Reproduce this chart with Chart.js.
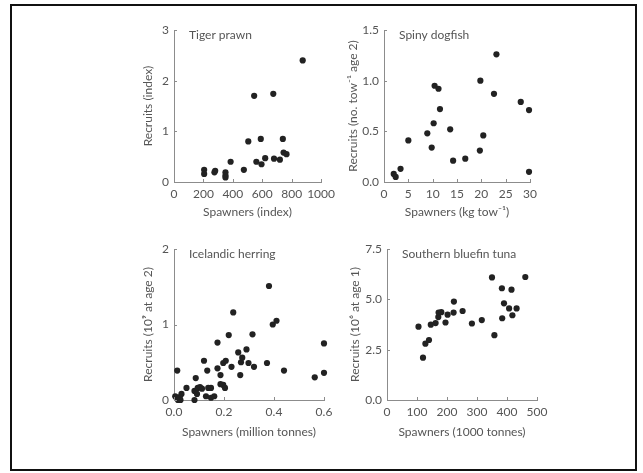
<!DOCTYPE html>
<html><head><meta charset="utf-8">
<script src="https://cdn.jsdelivr.net/npm/chart.js@4.4.0/dist/chart.umd.min.js"></script>
<style>
html,body{margin:0;padding:0;background:#fff;}
body{width:643px;height:473px;position:relative;overflow:hidden;}
#frame{position:absolute;left:10px;top:4px;width:623px;height:463px;border:2px solid #111;}
canvas{position:absolute;}
</style></head><body>
<div id="frame"></div>
<canvas id="c1" style="left:120px;top:15px" width="220" height="215"></canvas>
<canvas id="c2" style="left:335px;top:15px" width="215" height="215"></canvas>
<canvas id="c3" style="left:120px;top:235px" width="220" height="215"></canvas>
<canvas id="c4" style="left:335px;top:235px" width="220" height="215"></canvas>
<script>
// ---- Data ----
const prawnSpawners = [205,205,275,280,350,350,350,385,475,505,545,560,590,595,620,675,680,720,740,745,765,875];
const prawnRecruits = [0.24,0.16,0.19,0.22,0.19,0.13,0.09,0.40,0.24,0.80,1.70,0.40,0.85,0.35,0.47,1.74,0.46,0.44,0.85,0.58,0.55,2.40];
const prawnXTicks = [0,200,400,600,800,1000];
const prawnYTicks = [0,1,2,3];

const dogfishSpawners = [2.0,2.4,3.4,5.0,8.9,9.8,10.2,10.4,11.2,11.5,13.6,14.2,16.7,19.7,19.8,20.4,22.6,23.1,28.1,29.8,29.8];
const dogfishRecruits = [0.08,0.05,0.13,0.41,0.48,0.34,0.58,0.95,0.92,0.72,0.52,0.21,0.23,0.31,1.00,0.46,0.87,1.26,0.79,0.71,0.10];
const dogfishXTicks = [0,5,10,15,20,25,30];
const dogfishYTicks = [0,0.5,1.0,1.5];

const herringSpawners = [0.013,0.005,0.01,0.016,0.023,0.03,0.026,0.05,0.087,0.082,0.092,0.082,0.095,0.104,0.112,0.12,0.128,0.133,0.137,0.148,0.148,0.161,0.174,0.174,0.186,0.186,0.197,0.204,0.197,0.207,0.219,0.23,0.237,0.257,0.265,0.268,0.273,0.29,0.298,0.314,0.32,0.38,0.372,0.395,0.41,0.44,0.563,0.60,0.60];
const herringRecruits = [0.39,0.05,0.03,0.0,0.04,0.08,0.0,0.16,0.29,0.12,0.08,0.0,0.16,0.17,0.15,0.52,0.05,0.39,0.16,0.16,0.03,0.05,0.76,0.42,0.33,0.21,0.20,0.16,0.49,0.52,0.86,0.44,1.16,0.63,0.33,0.50,0.56,0.67,0.49,0.87,0.44,1.51,0.49,1.00,1.05,0.39,0.30,0.36,0.75];
const herringXTicks = [0,0.2,0.4,0.6];
const herringYTicks = [0,1,2];

const tunaSpawners = [105,120,128,140,146,162,171,172,181,195,202,222,223,252,283,316,350,358,383,384,390,407,415,418,432,461];
const tunaRecruits = [3.64,2.10,2.80,2.98,3.74,3.82,4.12,4.34,4.36,3.85,4.24,4.34,4.89,4.42,3.80,3.97,6.09,3.22,5.55,4.06,4.80,4.55,5.48,4.21,4.55,6.11];
const tunaXTicks = [0,100,200,300,400,500];
const tunaYTicks = [0,2.5,5.0,7.5];

// ---- Styling ----
const AXIS = '#8c8c8c';
const TEXT = '#555555';
const DOT = '#222222';
const FONT = {family: 'Lato, "Open Sans", sans-serif', size: 12, lineHeight: 1.2};

const panelPlugin = {
  id: 'panelDeco',
  afterDraw(chart, args, opts) {
    const {ctx, chartArea: a, scales: {x, y}} = chart;
    ctx.save();
    ctx.strokeStyle = AXIS; ctx.lineWidth = 1;
    ctx.beginPath();
    x.ticks.forEach(t => { const p = Math.round(x.getPixelForValue(t.value)) + 0.5; ctx.moveTo(p, a.bottom); ctx.lineTo(p, a.bottom - 3); });
    y.ticks.forEach(t => { const p = Math.round(y.getPixelForValue(t.value)) + 0.5; ctx.moveTo(a.left, p); ctx.lineTo(a.left + 3, p); });
    ctx.stroke();
    ctx.fillStyle = TEXT;
    ctx.font = '12px Lato, "Open Sans", sans-serif';
    ctx.textBaseline = 'middle';
    ctx.textAlign = 'left';
    ctx.fillText(opts.text, a.left + opts.dx, a.top + opts.dy);
    ctx.restore();
  }
};

function makePanel(id, cfg) {
  const ticksFrom = arr => (s => { s.ticks = arr.map(v => ({value: v})); });
  new Chart(document.getElementById(id), {
    type: 'scatter',
    data: {datasets: [{
      data: cfg.xs.map((v, i) => ({x: v, y: cfg.ys[i]})),
      backgroundColor: DOT, borderColor: DOT, pointRadius: 3.1, pointHoverRadius: 3.1, borderWidth: 0
    }]},
    options: {
      responsive: false, animation: false, events: [],
      layout: {padding: {left: 0, top: cfg.padTop, right: cfg.padRight, bottom: 0}},
      plugins: {legend: {display: false}, tooltip: {enabled: false},
        panelDeco: {text: cfg.label, dx: 15, dy: 5}},
      scales: {
        x: {
          type: 'linear', min: cfg.xTicks[0], max: cfg.xTicks[cfg.xTicks.length - 1],
          afterBuildTicks: ticksFrom(cfg.xTicks),
          afterFit: s => { s.height = cfg.xH; },
          grid: {display: false, drawTicks: false},
          border: {display: true, color: AXIS, width: 1},
          ticks: {color: TEXT, font: FONT, padding: 5, maxRotation: 0, autoSkip: false,
            callback: v => cfg.xFmt(v)},
          title: {display: true, text: cfg.xTitle, color: TEXT, font: FONT, padding: {top: 0, bottom: cfg.xTitlePad}}
        },
        y: {
          type: 'linear', min: cfg.yTicks[0], max: cfg.yTicks[cfg.yTicks.length - 1],
          afterBuildTicks: ticksFrom(cfg.yTicks),
          afterFit: s => { s.width = cfg.yW; },
          grid: {display: false, drawTicks: false},
          border: {display: true, color: AXIS, width: 1},
          ticks: {color: TEXT, font: FONT, padding: 5, autoSkip: false,
            callback: v => cfg.yFmt(v)},
          title: {display: true, text: cfg.yTitle, color: TEXT, font: FONT, padding: {top: cfg.yTitlePad, bottom: 0}}
        }
      },
      clip: false
    },
    plugins: [panelPlugin]
  });
}

const f0 = v => String(v);
const f1 = v => v.toFixed(1);

makePanel('c1', {xs: prawnSpawners, ys: prawnRecruits, xTicks: prawnXTicks, yTicks: prawnYTicks,
  xFmt: f0, yFmt: f0, label: 'Tiger prawn', xTitle: 'Spawners (index)', yTitle: 'Recruits (index)',
  padTop: 15, padRight: 16, yW: 54, xH: 48, yTitlePad: 20.8, xTitlePad: 11});
makePanel('c2', {xs: dogfishSpawners, ys: dogfishRecruits, xTicks: dogfishXTicks, yTicks: dogfishYTicks,
  xFmt: f0, yFmt: f1, label: 'Spiny dogfish', xTitle: 'Spawners (kg tow\u207B\u00B9)', yTitle: 'Recruits (no. tow\u207B\u00B9 age 2)',
  padTop: 15, padRight: 20, yW: 49, xH: 48, yTitlePad: 10.8, xTitlePad: 11});
makePanel('c3', {xs: herringSpawners, ys: herringRecruits, xTicks: herringXTicks, yTicks: herringYTicks,
  xFmt: f1, yFmt: f0, label: 'Icelandic herring', xTitle: 'Spawners (million tonnes)', yTitle: 'Recruits (10\u2079 at age 2)',
  padTop: 14, padRight: 16, yW: 54, xH: 50, yTitlePad: 20.8, xTitlePad: 10.8});
makePanel('c4', {xs: tunaSpawners, ys: tunaRecruits, xTicks: tunaXTicks, yTicks: tunaYTicks,
  xFmt: f0, yFmt: f1, label: 'Southern bluefin tuna', xTitle: 'Spawners (1000 tonnes)', yTitle: 'Recruits (10\u2076 at age 1)',
  padTop: 14, padRight: 18, yW: 52, xH: 50, yTitlePad: 12.8, xTitlePad: 10.8});
</script>
</body></html>
